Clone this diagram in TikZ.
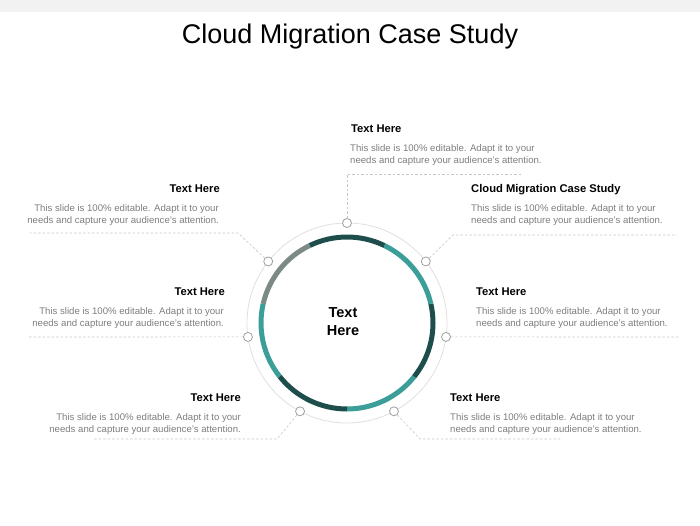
\documentclass[tikz,border=0pt]{standalone}
\usepackage{fontspec}
\setmainfont{Liberation Sans}
\usepackage{tikz}
\usetikzlibrary{positioning,calc}
\definecolor{ringdark}{RGB}{30,78,75}
\definecolor{ringteal}{RGB}{59,158,153}
\definecolor{ringgray}{RGB}{123,138,134}
\definecolor{bodygray}{RGB}{125,125,125}
\definecolor{topbar}{RGB}{242,242,242}

\tikzset{
  seg/.style={line width=5pt},
  dot/.style={circle, draw=gray!75, line width=0.8pt, fill=white, minimum size=9pt, inner sep=0pt},
  link/.style={draw=gray!45, line width=0.6pt, dash pattern=on 2.5pt off 2pt},
  head/.style={font=\fontsize{11.2}{13}\selectfont\bfseries, inner sep=0pt},
  body/.style={font=\fontsize{9.6}{12}\selectfont, text=bodygray, inner sep=0pt}
}

\begin{document}
\begin{tikzpicture}[x=1pt,y=1pt]
      \useasboundingbox (0,0) rectangle (700,525);
      \fill[topbar] (0,513) rectangle (700,525);

      \node[font=\fontsize{27}{30}\selectfont, anchor=base] (title) at (350,481) {Cloud Migration Case Study};

      % ring
      \coordinate (c) at (347,202);
      \draw[gray!25, line width=0.8pt] (c) circle (100);
      \draw[seg, ringteal] ($(c)+(-90:86)$) arc (-90:-38.57:86);
      \draw[seg, ringdark] ($(c)+(-38.57:86)$) arc (-38.57:12.86:86);
      \draw[seg, ringteal] ($(c)+(12.86:86)$) arc (12.86:64.29:86);
      \draw[seg, ringdark] ($(c)+(64.29:86)$) arc (64.29:115.71:86);
      \draw[seg, ringgray] ($(c)+(115.71:86)$) arc (115.71:167.14:86);
      \draw[seg, ringteal] ($(c)+(167.14:86)$) arc (167.14:218.57:86);
      \draw[seg, ringdark] ($(c)+(218.57:86)$) arc (218.57:270:86);

      \node[font=\fontsize{14.5}{18}\selectfont\bfseries, align=center] (core) at (343,203) {Text\\Here};

      % dots on the outer circle
      \node[dot] (p1) at ($(c)+(90:100)$) {};
      \node[dot] (p2) at ($(c)+(38:100)$) {};
      \node[dot] (p3) at ($(c)+(-8:100)$) {};
      \node[dot] (p4) at ($(c)+(-62:100)$) {};
      \node[dot] (p5) at ($(c)+(-118:100)$) {};
      \node[dot] (p6) at ($(c)+(188:100)$) {};
      \node[dot] (p7) at ($(c)+(142:100)$) {};

      % dashed leaders
      \coordinate (k1) at (347,351);   \coordinate (e1) at (523,351);
      \coordinate (k2) at (453,290);   \coordinate (e2) at (677,290);
      \coordinate (e3) at (680,188);
      \coordinate (k4) at (420,86);    \coordinate (e4) at (562,86);
      \coordinate (k5) at (277,86);    \coordinate (e5) at (93,86);
      \coordinate (e6) at (28,188);
      \coordinate (k7) at (238,292);   \coordinate (e7) at (30,292);

      \draw[link] (p1) -- (k1) -- (e1);
      \draw[link] (p2) -- (k2) -- (e2);
      \draw[link] (p3) -- (e3);
      \draw[link] (p4) -- (k4) -- (e4);
      \draw[link] (p5) -- (k5) -- (e5);
      \draw[link] (p6) -- (e6);
      \draw[link] (p7) -- (k7) -- (e7);

      % text blocks
      \node[head, anchor=base west] (h1) at (351,392) {Text Here};
      \node[body, anchor=base west, align=left] (b1) at ($(h1.base west)+(-1,-31)$) {This slide is 100\% editable. Adapt it to your\\needs and capture your audience's attention.};

      \node[head, anchor=base west] (h2) at (471,332) {Cloud Migration Case Study};
      \node[body, anchor=base west, align=left] (b2) at ($(h2.base west)+(0,-31)$) {This slide is 100\% editable. Adapt it to your\\needs and capture your audience's attention.};

      \node[head, anchor=base west] (h3) at (476,230) {Text Here};
      \node[body, anchor=base west, align=left] (b3) at ($(h3.base west)+(0,-31)$) {This slide is 100\% editable. Adapt it to your\\needs and capture your audience's attention.};

      \node[head, anchor=base west] (h4) at (450,123.5) {Text Here};
      \node[body, anchor=base west, align=left] (b4) at ($(h4.base west)+(0,-31)$) {This slide is 100\% editable. Adapt it to your\\needs and capture your audience's attention.};

      \node[head, anchor=base east] (h5) at (241,123.5) {Text Here};
      \node[body, anchor=base east, align=right] (b5) at ($(h5.base east)+(0,-31)$) {This slide is 100\% editable. Adapt it to your\\needs and capture your audience's attention.};

      \node[head, anchor=base east] (h6) at (225,230) {Text Here};
      \node[body, anchor=base east, align=right] (b6) at ($(h6.base east)+(-1,-31)$) {This slide is 100\% editable. Adapt it to your\\needs and capture your audience's attention.};

      \node[head, anchor=base east] (h7) at (220,332.5) {Text Here};
      \node[body, anchor=base east, align=right] (b7) at ($(h7.base east)+(-1,-31)$) {This slide is 100\% editable. Adapt it to your\\needs and capture your audience's attention.};
\end{tikzpicture}
\end{document}
